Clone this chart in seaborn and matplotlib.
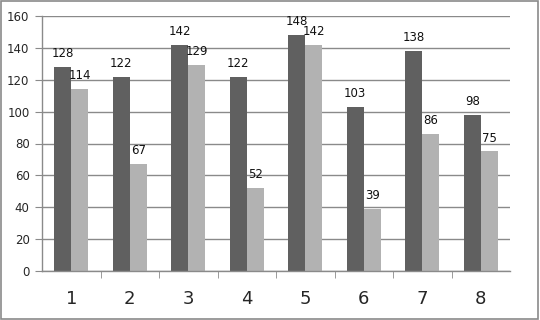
"""
Grafico de barras agrupadas (estilo Excel, grises)
"""

import pandas as pd
import matplotlib.pyplot as plt
import seaborn as sns
from matplotlib.patches import Rectangle

categorias = ['1', '2', '3', '4', '5', '6', '7', '8']
serie_a = [128, 122, 142, 122, 148, 103, 138, 98]
serie_b = [114, 67, 129, 52, 142, 39, 86, 75]
y_ticks = [0, 20, 40, 60, 80, 100, 120, 140, 160]

df = pd.DataFrame({
    'categoria': categorias * 2,
    'valor': serie_a + serie_b,
    'serie': ['A'] * len(serie_a) + ['B'] * len(serie_b),
})

sns.set_style('white')
plt.rcParams['font.family'] = ['DejaVu Sans']

fig = plt.figure(figsize=(5.4, 3.2), dpi=100)
ax = fig.add_axes([42 / 540, 1 - 271 / 320, 468 / 540, 255 / 320])

sns.barplot(data=df, x='categoria', y='valor', hue='serie',
            palette=['#606060', '#b2b2b2'], width=0.58, saturation=1,
            linewidth=0, edgecolor='none', legend=False, ax=ax)

for cont in ax.containers:
    ax.bar_label(cont, fontsize=8.5, padding=5, color='#111111')

ax.set_ylim(0, 160)
ax.set_yticks(y_ticks)
ax.set_xlim(-0.5, len(categorias) - 0.5)
ax.yaxis.grid(True, color='#8a8a8a', linewidth=1)
ax.set_axisbelow(True)
ax.set_xlabel('')
ax.set_ylabel('')

ax.tick_params(axis='y', labelsize=8.5, length=5, color='#8a8a8a', pad=4,
               left=True)
ax.tick_params(axis='x', which='major', labelsize=13, length=0, pad=14)
ax.set_xticks([i + 0.5 for i in range(len(categorias) - 1)], minor=True)
ax.tick_params(axis='x', which='minor', length=5, color='#8a8a8a',
               bottom=True)

for lado in ['top', 'right']:
    ax.spines[lado].set_visible(False)
for lado in ['left', 'bottom']:
    ax.spines[lado].set_color('#8a8a8a')
    ax.spines[lado].set_linewidth(1)

fig.patches.append(Rectangle((0.002, 0.003), 0.995, 0.994,
                             transform=fig.transFigure, fill=False,
                             edgecolor='#8a8a8a', linewidth=1.2))

fig.savefig('out.png', dpi=100)
